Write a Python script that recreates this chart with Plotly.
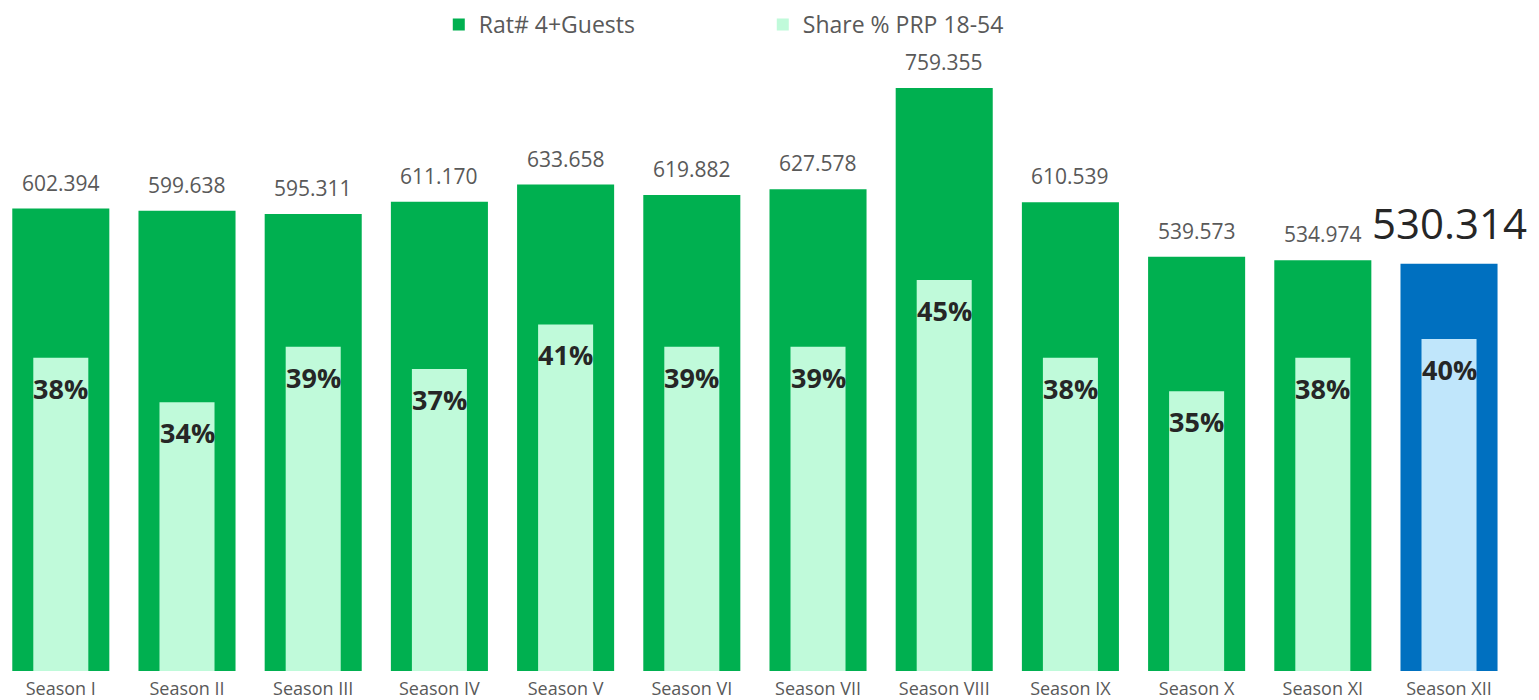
import plotly.graph_objects as go

seasons = ["Season I", "Season II", "Season III", "Season IV", "Season V", "Season VI",
           "Season VII", "Season VIII", "Season IX", "Season X", "Season XI", "Season XII"]
rating = [602.394, 599.638, 595.311, 611.170, 633.658, 619.882,
          627.578, 759.355, 610.539, 539.573, 534.974, 530.314]
rating_labels = ["602.394", "599.638", "595.311", "611.170", "633.658", "619.882",
                 "627.578", "759.355", "610.539", "539.573", "534.974", "530.314"]
share = [38.0, 34.0, 39.0, 37.0, 41.0, 39.0, 39.0, 45.0, 38.0, 35.0, 38.0, 39.7]
share_labels = ["38%", "34%", "39%", "37%", "41%", "39%", "39%", "45%", "38%", "35%", "38%", "40%"]

outer_colors = ["#00B050"] * 11 + ["#0070C0"]
inner_colors = ["#C0FADA"] * 11 + ["#C0E6FB"]

FONT = "Open Sans"

fig = go.Figure()
fig.add_trace(go.Bar(
    x=seasons, y=rating, name="Rat# 4+Guests",
    marker=dict(color=outer_colors, line=dict(width=0)),
    width=0.769, yaxis="y", hoverinfo="skip",
))
fig.add_trace(go.Bar(
    x=seasons, y=share, name="Share % PRP 18-54",
    marker=dict(color=inner_colors, line=dict(width=0)),
    width=0.436, yaxis="y2", hoverinfo="skip",
))

annotations = []
for i, (s, v, t) in enumerate(zip(seasons, rating, rating_labels)):
    last = i == len(seasons) - 1
    annotations.append(dict(
        x=s, y=v, xref="x", yref="y", text=t, showarrow=False,
        yanchor="bottom", yshift=11 if last else 10,
        font=dict(family=FONT, size=42 if last else 21,
                  color="#262626" if last else "#595959"),
    ))
for s, p, t in zip(seasons, share, share_labels):
    annotations.append(dict(
        x=s, y=p, xref="x", yref="y2", text="<b>" + t + "</b>", showarrow=False,
        yanchor="top", yshift=-10,
        font=dict(family=FONT, size=27, color="#262626"),
    ))

fig.update_layout(
    width=1531, height=692,
    margin=dict(l=0, r=0, t=32, b=29, pad=0, autoexpand=False),
    paper_bgcolor="white", plot_bgcolor="white",
    barmode="overlay",
    font=dict(family=FONT, color="#595959"),
    xaxis=dict(type="category", range=[-0.4184, 11.713], showgrid=False,
               showline=False, zeroline=False, ticks="", automargin=False,
               ticklabelstandoff=5,
               tickfont=dict(family=FONT, size=18, color="#595959")),
    yaxis=dict(range=[0, 821.9], visible=False, showgrid=False, zeroline=False),
    yaxis2=dict(range=[9.84, 66.58], overlaying="y", visible=False,
                showgrid=False, zeroline=False),
    legend=dict(orientation="h", x=0.493, xanchor="center", y=0.9905, yanchor="bottom",
                entrywidth=279, entrywidthmode="pixels",
                font=dict(family=FONT, size=23, color="#595959"),
                bgcolor="rgba(0,0,0,0)"),
    annotations=annotations,
    showlegend=True,
)

fig.write_html("out.html")
